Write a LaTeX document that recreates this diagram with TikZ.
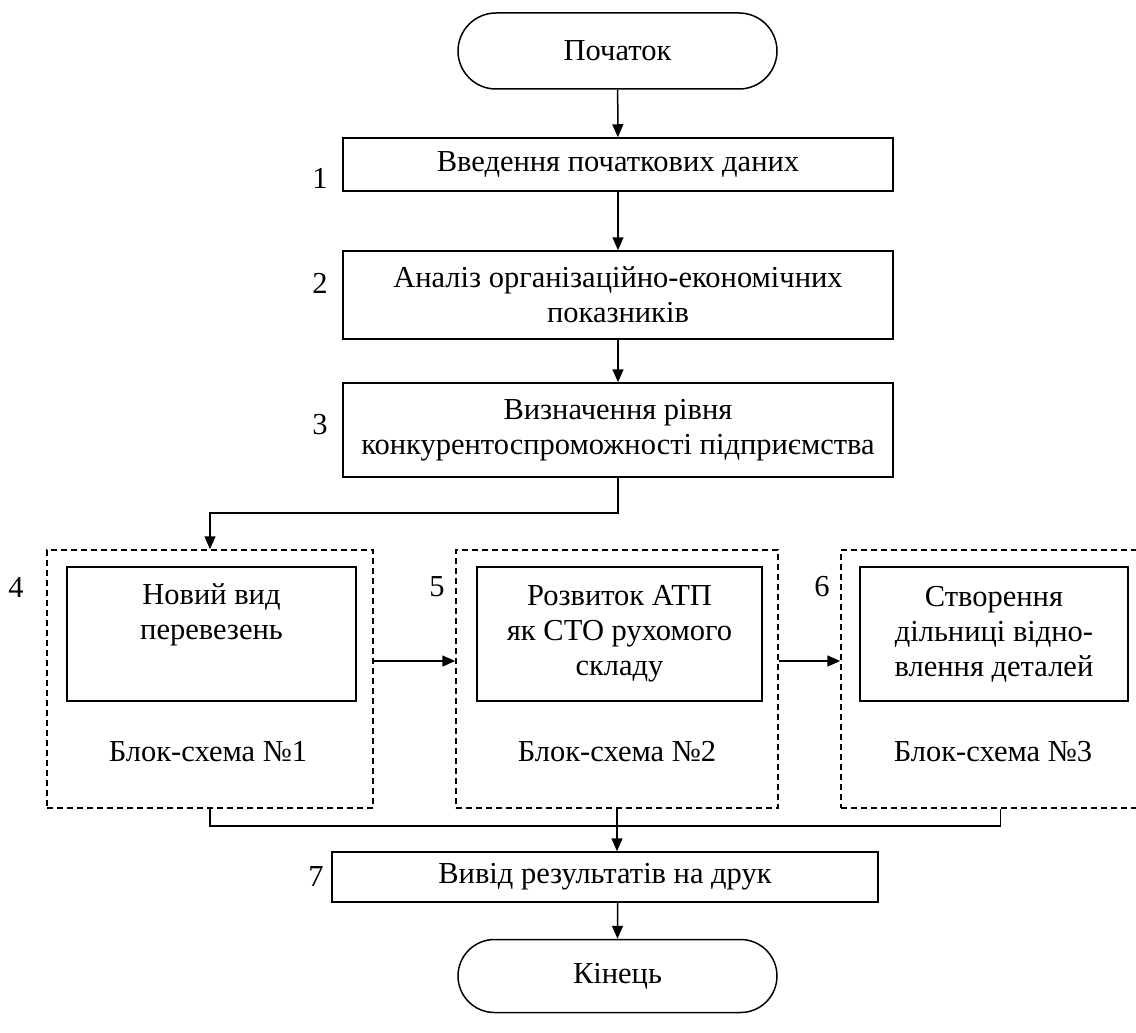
\documentclass[tikz,border=0pt]{standalone}
\usepackage{fontspec}
\setmainfont{Liberation Serif}
\usetikzlibrary{arrows.meta,shapes.misc}

\begin{document}
\begin{tikzpicture}[x=1pt, y=-1pt,
    every node/.style={font=\fontsize{30.5}{35}\selectfont, inner sep=2pt},
    term/.style={draw, rounded rectangle, line width=1.5pt,
        minimum width=323pt, minimum height=76pt},
    bloc/.style={draw, rectangle, line width=1.5pt, align=center,
        minimum width=550pt},
    ramka/.style={draw, rectangle, line width=1.5pt,
        dash pattern=on 6pt off 4pt, minimum height=258pt},
    vnutr/.style={draw, rectangle, line width=1.5pt, align=center,
        minimum height=134pt},
    nomer/.style={inner sep=0pt},
    strilka/.style={line width=1.5pt, -{Triangle[length=13pt,width=11pt]}},
    liniya/.style={line width=1.5pt}
    ]
    \useasboundingbox (0,0) rectangle (1136,1033);

    \node[term] (pochatok) at (617.5,51) {Початок};
    \node[bloc, minimum height=53pt] (b1) at (618,164.5) {Введення початкових даних};
    \node[bloc, minimum height=88pt] (b2) at (618,295) {Аналіз організаційно-економічних\\показників};
    \node[bloc, minimum height=94pt] (b3) at (618,430) {Визначення рівня\\конкурентоспроможності підприємства};

    \node[ramka, minimum width=326pt] (f4) at (210,679) {};
    \node[ramka, minimum width=322pt] (f5) at (617,679) {};
    \node[ramka, minimum width=319pt] (f6) at (1000.5,679) {};

    \node[vnutr, minimum width=289pt] (v4) at (211.5,634) {Новий вид\\перевезень\\\strut};
    \node[vnutr, minimum width=285pt] (v5) at (619.5,634) {Розвиток АТП\\як СТО рухомого\\складу};
    \node[vnutr, minimum width=268pt] (v6) at (994,634) {Створення\\дільниці відно-\\влення деталей};

    \node (s4) at (208,752) {Блок-схема №1};
    \node (s5) at (617,752) {Блок-схема №2};
    \node (s6) at (993,752) {Блок-схема №3};

    \node[bloc, minimum width=546pt, minimum height=50pt] (b7) at (605,877) {Вивід результатів на друк};
    \node[term, minimum height=73pt] (kinets) at (617.5,976) {Кінець};

    \node[nomer] (l1) at (320,178) {1};
    \node[nomer] (l2) at (320,283) {2};
    \node[nomer] (l3) at (320,425) {3};
    \node[nomer] (l4) at (16,587) {4};
    \node[nomer] (l5) at (437,587) {5};
    \node[nomer] (l6) at (822,587) {6};
    \node[nomer] (l7) at (316,877) {7};

    \coordinate (povorot) at (0,513);
    \coordinate (zliv) at (0,826);

    \draw[strilka] (pochatok) -- (b1);
    \draw[strilka] (b1) -- (b2);
    \draw[strilka] (b2) -- (b3);
    \draw[strilka] (b3.south) -- (b3.south |- povorot) -| (f4.north);
    \draw[strilka] ([yshift=18pt]f4.east) -- ([yshift=18pt]f5.west);
    \draw[strilka] ([yshift=18pt]f5.east) -- ([yshift=18pt]f6.west);
    \draw[liniya] (f4.south) -- (f4.south |- zliv) -- (f6.south |- zliv) -- (f6.south);
    \draw[strilka] (f5.south) -- (f5.south |- b7.north);
    \draw[strilka] (b7.south -| kinets.north) -- (kinets);
\end{tikzpicture}
\end{document}
